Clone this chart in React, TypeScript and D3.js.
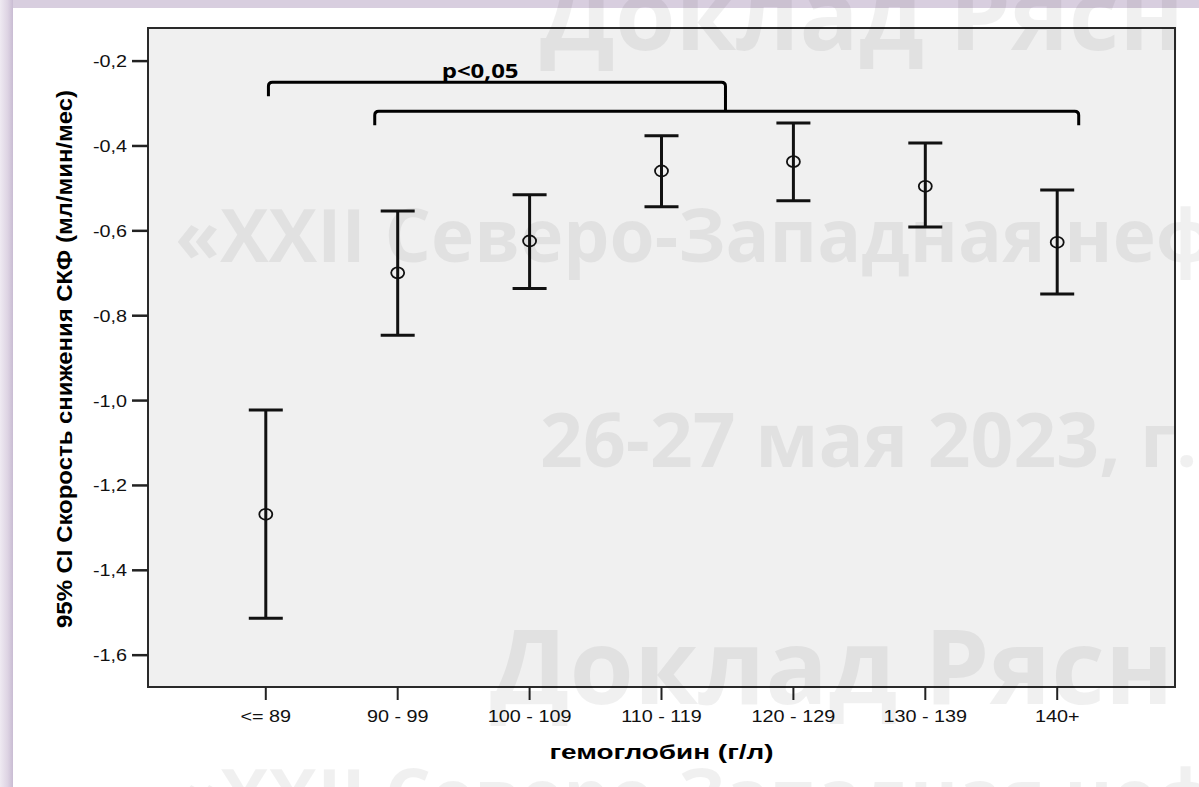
import React, { useEffect, useRef } from "react";
import * as d3 from "d3";

// hemoglobin groups (g/l)
const categories = ["<= 89", "90 - 99", "100 - 109", "110 - 119", "120 - 129", "130 - 139", "140+"];
// 95% CI of GFR decline rate (ml/min/month)
const means = [-1.268, -0.699, -0.624, -0.459, -0.437, -0.495, -0.627];
const lower = [-1.513, -0.846, -0.736, -0.543, -0.529, -0.591, -0.749];
const upper = [-1.022, -0.553, -0.515, -0.376, -0.346, -0.393, -0.504];
const yTicks = [-0.2, -0.4, -0.6, -0.8, -1.0, -1.2, -1.4, -1.6];

// significance brackets: ends in category-index units, level in y units
const bracketFrom = [0.02, 0.826];
const bracketTo = [3.485, 6.163];
const bracketLevel = [-0.25, -0.318];
const pLabel = "p<0,05";

const watermarks = [
  { text: "Доклад Рясн", x: 540, y: 50, size: 98 },
  { text: "«XXII Северо-Западная неф", x: 175, y: 262, size: 73 },
  { text: "26-27 мая 2023, г.", x: 540, y: 467, size: 75 },
  { text: "Доклад Рясн", x: 490, y: 704, size: 104 },
  { text: "«XXII Северо-Западная неф", x: 175, y: 822, size: 73 },
];

const W = 1199;
const H = 787;
const frame = { left: 148, top: 28, right: 1175, bottom: 687 };
const SX = 1.2; // the original picture is stretched horizontally

const fmt = (v: number) => v.toFixed(1).replace(".", ",");

export default function App() {
  const ref = useRef<SVGSVGElement | null>(null);

  useEffect(() => {
    const svg = d3.select(ref.current);
    svg.selectAll("*").remove();

    const x = d3.scalePoint<string>().domain(categories).range([frame.left, frame.right]).padding(0.893);
    const y = d3.scaleLinear().domain([-1.675, -0.122]).range([frame.bottom, frame.top]);
    const step = x.step();
    const xi = (i: number) => (x(categories[0]) as number) + i * step;

    // page background and lavender edge
    svg.append("rect").attr("width", W).attr("height", H).attr("fill", "#ffffff");
    const defs = svg.append("defs");
    const lg = defs.append("linearGradient").attr("id", "edgeL").attr("x1", 0).attr("x2", 1);
    lg.append("stop").attr("offset", 0).attr("stop-color", "#efeaf2");
    lg.append("stop").attr("offset", 0.6).attr("stop-color", "#ddd3e3");
    lg.append("stop").attr("offset", 1).attr("stop-color", "#c9bcd3");
    svg.append("rect").attr("x", 0).attr("y", 0).attr("width", W).attr("height", 8).attr("fill", "#d8cedf");
    svg.append("rect").attr("x", 0).attr("y", 0).attr("width", 13).attr("height", H).attr("fill", "url(#edgeL)");

    // plot frame
    svg
      .append("rect")
      .attr("x", frame.left)
      .attr("y", frame.top)
      .attr("width", frame.right - frame.left)
      .attr("height", frame.bottom - frame.top)
      .attr("fill", "#f0f0f0")
      .attr("stroke", "#2a2a2a")
      .attr("stroke-width", 2);

    const font = "'Liberation Sans', Arial, sans-serif";

    // y axis
    const yt = svg.append("g");
    yTicks.forEach((t) => {
      yt.append("line")
        .attr("x1", frame.left - 16)
        .attr("x2", frame.left)
        .attr("y1", y(t))
        .attr("y2", y(t))
        .attr("stroke", "#222")
        .attr("stroke-width", 2.5);
      yt.append("text")
        .attr("transform", `translate(${frame.left - 21},${y(t) + 6}) scale(${SX},1)`)
        .attr("text-anchor", "end")
        .attr("font-family", font)
        .attr("font-size", 16.5)
        .attr("fill", "#111")
        .text(fmt(t));
    });

    // x axis
    const xt = svg.append("g");
    categories.forEach((c) => {
      const px = x(c) as number;
      xt.append("line")
        .attr("x1", px)
        .attr("x2", px)
        .attr("y1", frame.bottom)
        .attr("y2", frame.bottom + 13)
        .attr("stroke", "#222")
        .attr("stroke-width", 2);
      xt.append("text")
        .attr("transform", `translate(${px},${frame.bottom + 35}) scale(${SX},1)`)
        .attr("text-anchor", "middle")
        .attr("font-family", font)
        .attr("font-size", 16.5)
        .attr("fill", "#111")
        .text(c);
    });

    // axis titles
    svg
      .append("text")
      .attr("transform", `translate(${(frame.left + frame.right) / 2},759) scale(1.33,1)`)
      .attr("text-anchor", "middle")
      .attr("font-family", font)
      .attr("font-weight", "bold")
      .attr("font-size", 21)
      .attr("fill", "#000")
      .text("гемоглобин (г/л)");
    svg
      .append("text")
      .attr("transform", `translate(72,359) scale(1.25,1) rotate(-90)`)
      .attr("text-anchor", "middle")
      .attr("font-family", font)
      .attr("font-weight", "bold")
      .attr("font-size", 18)
      .attr("fill", "#000")
      .attr("textLength", 538)
      .attr("lengthAdjust", "spacingAndGlyphs")
      .text("95% CI Скорость снижения СКФ (мл/мин/мес)");

    // error bars
    const bars = svg.append("g").attr("stroke", "#111").attr("fill", "none");
    categories.forEach((c, i) => {
      const px = x(c) as number;
      bars.append("line").attr("x1", px).attr("x2", px).attr("y1", y(upper[i])).attr("y2", y(lower[i])).attr("stroke-width", 3);
      [upper[i], lower[i]].forEach((v) =>
        bars.append("line").attr("x1", px - 17).attr("x2", px + 17).attr("y1", y(v)).attr("y2", y(v)).attr("stroke-width", 3)
      );
      bars.append("ellipse").attr("cx", px).attr("cy", y(means[i])).attr("rx", 6.5).attr("ry", 5.5).attr("stroke-width", 1.8);
    });

    // significance brackets
    const br = svg.append("g").attr("stroke", "#000").attr("fill", "none").attr("stroke-width", 3);
    bracketFrom.forEach((f, i) => {
      const x0 = xi(f);
      const x1 = xi(bracketTo[i]);
      const yl = y(bracketLevel[i]);
      const r = 4;
      const drop = i === 0 ? y(bracketLevel[1]) - yl : 14;
      const p = d3.path();
      p.moveTo(x0, yl + 14);
      p.lineTo(x0, yl + r);
      p.quadraticCurveTo(x0, yl, x0 + r, yl);
      p.lineTo(x1 - r, yl);
      p.quadraticCurveTo(x1, yl, x1, yl + r);
      p.lineTo(x1, yl + drop);
      br.append("path").attr("d", p.toString());
    });
    svg
      .append("text")
      .attr("transform", `translate(${xi(1.625)},${y(bracketLevel[0]) - 4}) scale(${SX},1)`)
      .attr("text-anchor", "middle")
      .attr("font-family", "'Open Sans', sans-serif")
      .attr("font-weight", "bold")
      .attr("font-size", 20)
      .attr("fill", "#000")
      .text(pLabel);

    // watermark
    const wm = svg.append("g").attr("fill", "#000").attr("fill-opacity", 0.06);
    watermarks.forEach((w) => {
      wm.append("text")
        .attr("x", w.x)
        .attr("y", w.y)
        .attr("font-family", "'Open Sans', sans-serif")
        .attr("font-weight", 700)
        .attr("font-size", w.size)
        .text(w.text);
    });
  }, []);

  return <svg ref={ref} width={W} height={H} style={{ position: "absolute", left: 0, top: 0, display: "block" }} />;
}
